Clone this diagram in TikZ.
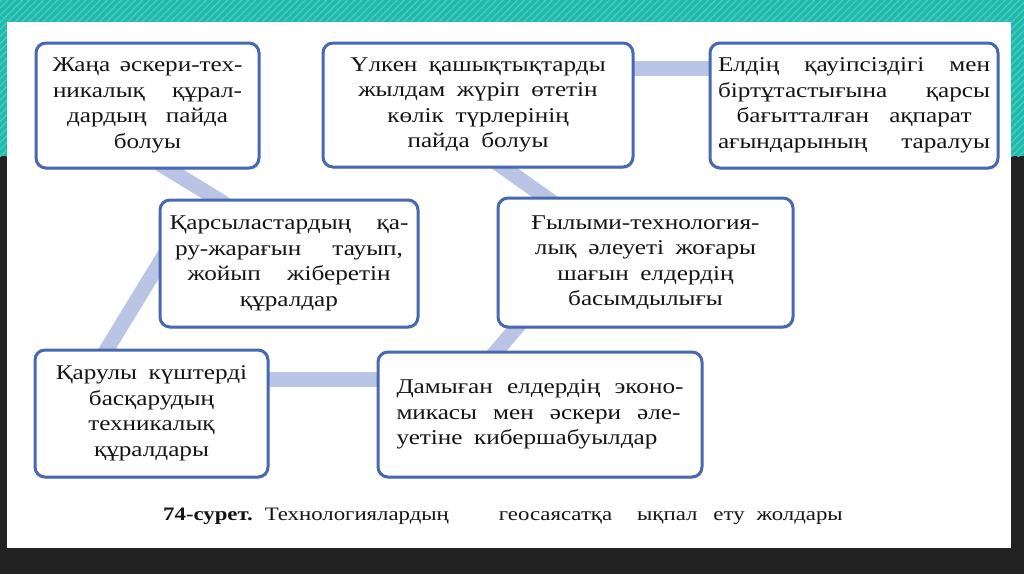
\documentclass[tikz,border=0pt]{standalone}
\usepackage{fontspec}
\setmainfont[FakeStretch=1.2]{Liberation Serif}
\usetikzlibrary{calc,shadows,patterns.meta}
\pgfdeclarelayer{back}
\pgfdeclarelayer{links}
\pgfsetlayers{back,links,main}
\definecolor{tealbg}{RGB}{30,187,172}
\definecolor{tealstripe}{RGB}{80,205,192}
\definecolor{darkbg}{RGB}{34,34,34}
\definecolor{boxblue}{RGB}{72,104,178}
\definecolor{band}{RGB}{186,196,228}
\definecolor{txt}{RGB}{20,20,20}
\newcommand\myboxfont{\fontsize{21}{25.5}\selectfont\spaceskip=0.55em plus 0.4em minus 0.2em\relax}
\newcommand\jl[2]{\makebox[#1pt][s]{#2}}
\begin{document}
\begin{tikzpicture}[x=1pt,y=-1pt,
  box/.style={draw=boxblue, line width=3pt, rounded corners=10pt, fill=white,
    align=center, inner sep=0pt, font=\myboxfont, text=txt,
    drop shadow={opacity=0.2, shadow xshift=1pt, shadow yshift=-2pt}},
  link/.style={draw=band, line width=15pt}]
\useasboundingbox (0,0) rectangle (1024,574);
% nodes
\node[box, minimum width=223pt, minimum height=125pt] (A) at (147.5,105.5)
  {\jl{190}{Жаңа әскери-тех-}\\\jl{189}{никалық құрал-}\\\jl{161}{дардың пайда}\\болуы};
\node[box, minimum width=310pt, minimum height=124pt] (B) at (478,105)
  {Үлкен қашықтықтарды\\жылдам жүріп өтетін\\көлік түрлерінің\\пайда болуы};
\node[box, minimum width=288pt, minimum height=125pt] (C) at (854,105.5)
  {\jl{272}{Елдің қауіпсіздігі мен}\\\jl{272}{біртұтастығына қарсы}\\\jl{235}{бағытталған ақпарат}\\\jl{272}{ағындарының таралуы}};
\node[box, minimum width=258pt, minimum height=127pt] (D) at (289,263.5)
  {\jl{239}{Қарсыластардың қа-}\\\jl{228}{ру-жарағын тауып,}\\\jl{203}{жойып жіберетін}\\құралдар};
\node[box, minimum width=295pt, minimum height=129pt] (E) at (645.5,262.5)
  {Ғылыми-технология-\\лық әлеуеті жоғары\\шағын елдердің\\басымдылығы};
\node[box, minimum width=233pt, minimum height=127pt] (F) at (151.5,413.5)
  {Қарулы күштерді\\басқарудың\\техникалық\\құралдары};
\node[box, align=left, minimum width=324pt, minimum height=125pt] (G) at (540,414.5)
  {\jl{287}{Дамыған елдердің эконо-}\\\jl{284}{микасы мен әскери әле-}\\уетіне кибершабуылдар};
\node[anchor=west, inner sep=0pt, text=txt, font=\fontsize{19}{22}\selectfont] (cap) at (163,516)
  {\textbf{74-сурет.}\hspace{12pt}Технологиялардың\hspace{50pt}геосаясатқа\hspace{25pt}ықпал\hspace{16pt}ету\hspace{12pt}жолдары};
% connectors
\begin{pgfonlayer}{links}
\draw[link] ($(A.south)+(8.5,-8)$) -- ($(D.north)+(-63,6)$);
\draw[link] ($(B.south)+(17,-7)$) -- ($(E.north)+(-90.5,7.5)$);
\draw[link] ($(B.north east)+(-5,27)$) -- ($(C.north west)+(5,27)$);
\draw[link] ($(D.west)+(12,-18.5)$) -- ($(F.north)+(-51.5,12)$);
\draw[link] ($(E.south)+(-119.5,-12)$) -- ($(G.north)+(-54,13)$);
\draw[link] ($(F.north east)+(-5,31)$) -- ($(G.north west)+(5,29)$);
\end{pgfonlayer}
% background
\begin{pgfonlayer}{back}
\fill[darkbg] (0,0) rectangle (1024,574);
\fill[tealbg] (0,0) rectangle (1024,156);
\fill[pattern={Lines[angle=45,distance=5pt,line width=1.2pt]}, pattern color=tealstripe] (0,0) rectangle (1024,156);
\fill[white] (7,22) rectangle (1011,548);
\end{pgfonlayer}
\end{tikzpicture}
\end{document}
